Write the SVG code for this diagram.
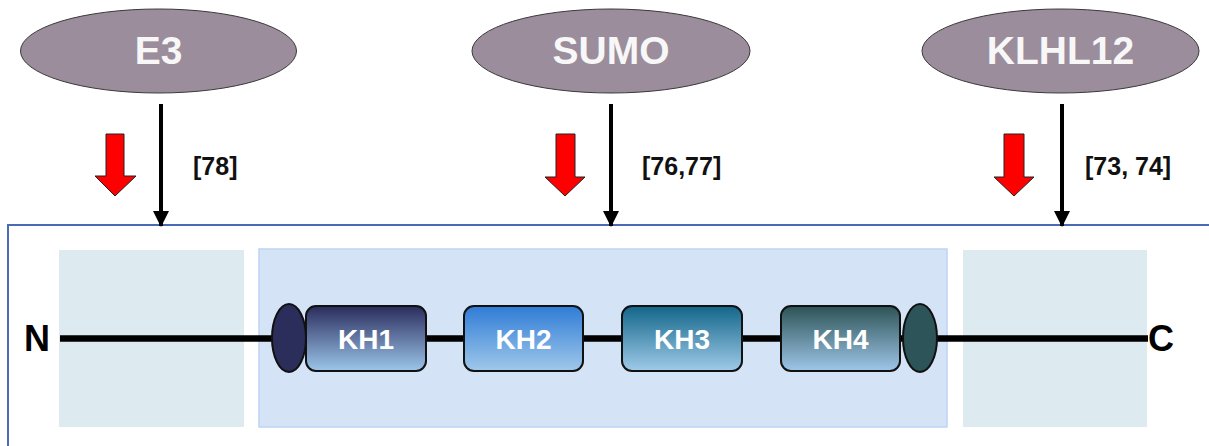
<svg xmlns="http://www.w3.org/2000/svg" width="1209" height="446" viewBox="0 0 1209 446">
<style>
.enz{fill:#9b8d9b;stroke:#3a3a3a;stroke-width:1}
.enzt{font-family:"Liberation Sans",Arial,sans-serif;font-weight:bold;font-size:39px;fill:#f7f7f7;text-anchor:middle}
.ref{font-family:"Liberation Sans",Arial,sans-serif;font-weight:bold;font-size:25px;fill:#111}
.term{font-family:"Liberation Sans",Arial,sans-serif;font-weight:bold;font-size:36px;fill:#000}
.kht{font-family:"Liberation Sans",Arial,sans-serif;font-weight:bold;font-size:28px;fill:#fff;text-anchor:middle}
.kh{stroke:#111;stroke-width:2}
.red{fill:#ff0000;stroke:#222;stroke-width:1}
.blk{stroke:#000;stroke-width:4;fill:none}
</style>
<defs>
<marker id="ah" markerUnits="userSpaceOnUse" markerWidth="16" markerHeight="16" refX="15" refY="8" orient="auto" viewBox="0 0 16 16">
<path d="M0,0 L16,8 L0,16 Z" fill="#000"/>
</marker>
<linearGradient id="g1" x1="0" y1="0" x2="0" y2="1"><stop offset="0" stop-color="#2a2c5c"/><stop offset="1" stop-color="#9cc6ea"/></linearGradient>
<linearGradient id="g2" x1="0" y1="0" x2="0" y2="1"><stop offset="0" stop-color="#2f7cd6"/><stop offset="1" stop-color="#a0c8ea"/></linearGradient>
<linearGradient id="g3" x1="0" y1="0" x2="0" y2="1"><stop offset="0" stop-color="#12668a"/><stop offset="1" stop-color="#a0cae8"/></linearGradient>
<linearGradient id="g4" x1="0" y1="0" x2="0" y2="1"><stop offset="0" stop-color="#2d5356"/><stop offset="1" stop-color="#9ec6e8"/></linearGradient>
</defs>

<g id="frame">
<path d="M1212,225 L8,225 L8,450" fill="none" stroke="#4a6ab5" stroke-width="2"/>
</g>

<g id="regions">
<rect id="region-n" x="59" y="250" width="185" height="177" fill="#ddeaef"/>
<rect id="region-kh" x="259" y="249" width="688" height="178" fill="#d4e4f6" stroke="#bed4f4" stroke-width="1.5"/>
<rect id="region-c" x="963" y="250" width="184" height="177" fill="#ddeaef"/>
</g>

<g id="connectors">
<line class="blk" x1="161" y1="104" x2="161" y2="226" marker-end="url(#ah)"/>
<line class="blk" x1="611" y1="104" x2="611" y2="226" marker-end="url(#ah)"/>
<line class="blk" x1="1062" y1="104" x2="1062" y2="226" marker-end="url(#ah)"/>
<path class="red" d="M106,134 H124 V176 H136 L115,196 L95,176 H106 Z"/>
<path class="red" d="M556,134 H575 V177 H585 L565,196 L545,177 H556 Z"/>
<path class="red" d="M1004,134 H1024 V177 H1034 L1014,196 L994,177 H1004 Z"/>
</g>

<g id="backbone">
<line x1="60" y1="338.5" x2="1148" y2="338.5" stroke="#000" stroke-width="6.5"/>
<text class="term" x="24" y="351">N</text>
<text class="term" x="1148" y="351">C</text>
</g>

<g id="e3">
<ellipse class="enz" cx="158.5" cy="51" rx="138" ry="42"/>
<text class="enzt" x="158.5" y="64">E3</text>
<text class="ref" x="193" y="175">[78]</text>
</g>
<g id="sumo">
<ellipse class="enz" cx="611" cy="51" rx="139" ry="42"/>
<text class="enzt" x="611" y="64">SUMO</text>
<text class="ref" x="642" y="175">[76,77]</text>
</g>
<g id="klhl12">
<ellipse class="enz" cx="1060.5" cy="51" rx="138.5" ry="42"/>
<text class="enzt" x="1060.5" y="64">KLHL12</text>
<text class="ref" x="1085" y="175">[73, 74]</text>
</g>

<g id="cap-n">
<ellipse cx="289" cy="338" rx="17" ry="34" fill="#2b2d5a" stroke="#111" stroke-width="2"/>
</g>
<g id="kh1">
<rect class="kh" x="306" y="306" width="120" height="65" rx="10" fill="url(#g1)"/>
<text class="kht" x="366" y="349">KH1</text>
</g>
<g id="kh2">
<rect class="kh" x="464" y="306" width="119" height="65" rx="10" fill="url(#g2)"/>
<text class="kht" x="523.5" y="349">KH2</text>
</g>
<g id="kh3">
<rect class="kh" x="622" y="306" width="120" height="65" rx="10" fill="url(#g3)"/>
<text class="kht" x="682" y="349">KH3</text>
</g>
<g id="kh4">
<rect class="kh" x="781" y="306" width="119" height="65" rx="10" fill="url(#g4)"/>
<text class="kht" x="840.5" y="349">KH4</text>
</g>
<g id="cap-c">
<ellipse cx="920" cy="338" rx="17" ry="34" fill="#2d5459" stroke="#111" stroke-width="2"/>
</g>
</svg>
